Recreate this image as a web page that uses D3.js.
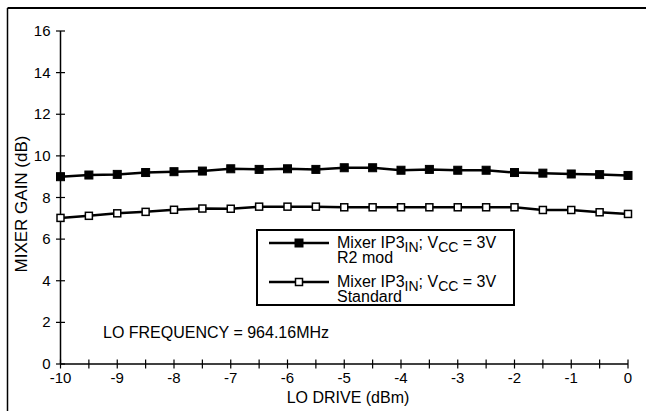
<!DOCTYPE html>
<html><head><meta charset="utf-8">
<script src="https://cdn.jsdelivr.net/npm/d3@7"></script>
<style>
body{margin:0;background:#fff;}
svg{display:block;font-family:Arial,"Liberation Sans",sans-serif;}
</style></head>
<body>
<script>
const loDrive = [-10,-9.5,-9,-8.5,-8,-7.5,-7,-6.5,-6,-5.5,-5,-4.5,-4,-3.5,-3,-2.5,-2,-1.5,-1,-0.5,0];
const gainR2mod = [9.0,9.08,9.11,9.2,9.24,9.27,9.38,9.35,9.38,9.35,9.43,9.43,9.31,9.35,9.31,9.31,9.2,9.17,9.13,9.1,9.06];
const gainStandard = [7.02,7.12,7.24,7.31,7.41,7.47,7.46,7.56,7.56,7.56,7.53,7.53,7.53,7.53,7.53,7.53,7.53,7.4,7.4,7.29,7.21];
const xTicks = [-10,-9,-8,-7,-6,-5,-4,-3,-2,-1,0];
const xMinorTicks = [-9.5,-8.5,-7.5,-6.5,-5.5,-4.5,-3.5,-2.5,-1.5,-0.5];
const yTicks = [0,2,4,6,8,10,12,14,16];
const legendLabels = [["Mixer IP3","IN","; V","CC"," = 3V","R2 mod"],["Mixer IP3","IN","; V","CC"," = 3V","Standard"]];

const W=646,H=411;
const svg=d3.select("body").append("svg").attr("width",W).attr("height",H);
// outer frame (cropped on right and bottom)
svg.append("line").attr("x1",7.5).attr("x2",W+5).attr("y1",8).attr("y2",8).attr("stroke","#000").attr("stroke-width",2);
svg.append("line").attr("x1",7.5).attr("x2",7.5).attr("y1",8).attr("y2",H+5).attr("stroke","#000").attr("stroke-width",1.5);

const x=d3.scaleLinear().domain([-10,0]).range([60.5,628]);
const y=d3.scaleLinear().domain([0,16]).range([364,31]);

// axes
const gx=svg.append("g").attr("transform",`translate(0,${y(0)})`);
gx.append("line").attr("x1",x(-10)).attr("x2",x(0)).attr("stroke","#000").attr("stroke-width",1.5);
gx.selectAll("line.t").data(xTicks.concat(xMinorTicks)).join("line").attr("class","t")
  .attr("x1",d=>x(d)).attr("x2",d=>x(d)).attr("y1",-4.5).attr("y2",4.5).attr("stroke","#000").attr("stroke-width",1.2);
gx.selectAll("text").data(xTicks).join("text").attr("x",d=>x(d)).attr("y",18.5)
  .attr("text-anchor","middle").attr("font-size",15).text(d=>d);

const gy=svg.append("g").attr("transform",`translate(${x(-10)},0)`);
gy.append("line").attr("y1",y(0)).attr("y2",y(16)).attr("stroke","#000").attr("stroke-width",1.5);
gy.selectAll("line.t").data(yTicks).join("line").attr("class","t")
  .attr("x1",-4.5).attr("x2",4.5).attr("y1",d=>y(d)).attr("y2",d=>y(d)).attr("stroke","#000").attr("stroke-width",1.2);
gy.selectAll("text").data(yTicks).join("text").attr("x",-10).attr("y",d=>y(d)+5)
  .attr("text-anchor","end").attr("font-size",15).text(d=>d);

svg.append("text").attr("x",348).attr("y",402.5).attr("text-anchor","middle").attr("font-size",16).text("LO DRIVE (dBm)");
svg.append("text").attr("transform","translate(27,204) rotate(-90)").attr("text-anchor","middle").attr("font-size",17).text("MIXER GAIN (dB)");
svg.append("text").attr("x",103).attr("y",337.5).attr("font-size",16).text("LO FREQUENCY = 964.16MHz");

const line=d3.line().x((d,i)=>x(loDrive[i])).y(d=>y(d));
function series(vals,fill){
  svg.append("path").attr("d",line(vals)).attr("fill","none").attr("stroke","#000").attr("stroke-width",2.5);
  const s = fill==="#000"?8:7;
  svg.append("g").selectAll("rect").data(vals).join("rect")
    .attr("x",(d,i)=>x(loDrive[i])-s/2).attr("y",d=>y(d)-s/2).attr("width",s).attr("height",s)
    .attr("fill",fill).attr("stroke","#000").attr("stroke-width",fill==="#000"?1:1.5);
}
series(gainStandard,"#fff");
series(gainR2mod,"#000");

// legend
const lg=svg.append("g");
lg.append("rect").attr("x",257).attr("y",230).attr("width",257).attr("height",75).attr("fill","#fff").attr("stroke","#000").attr("stroke-width",2);
const rowsY=[243,282];
[["#000",8],["#fff",7]].forEach((m,k)=>{
  lg.append("line").attr("x1",269).attr("x2",329).attr("y1",rowsY[k]).attr("y2",rowsY[k]).attr("stroke","#000").attr("stroke-width",2.5);
  lg.append("rect").attr("x",299-m[1]/2).attr("y",rowsY[k]-m[1]/2).attr("width",m[1]).attr("height",m[1])
    .attr("fill",m[0]).attr("stroke","#000").attr("stroke-width",m[0]==="#000"?1:1.5);
  const L=legendLabels[k];
  const t=lg.append("text").attr("x",337).attr("y",rowsY[k]+4.5).attr("font-size",16);
  t.append("tspan").text(L[0]);
  t.append("tspan").attr("dy",4).attr("font-size",14).text(L[1]);
  t.append("tspan").attr("dy",-4).text(L[2]);
  t.append("tspan").attr("dy",4).attr("font-size",14).text(L[3]);
  t.append("tspan").attr("dy",-4).text(L[4]);
  lg.append("text").attr("x",337).attr("y",rowsY[k]+20).attr("font-size",16).text(L[5]);
});
</script>
</body></html>
